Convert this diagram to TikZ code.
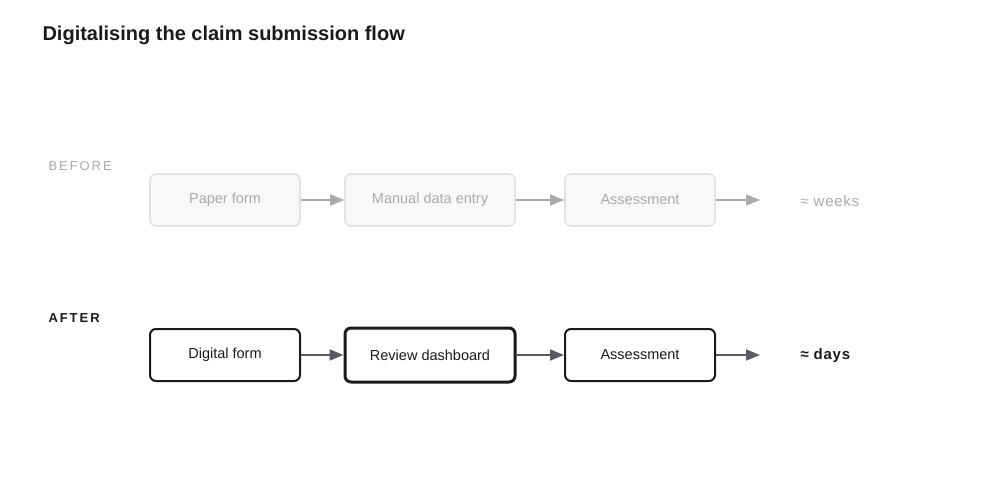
\documentclass[tikz,border=0pt]{standalone}
\usepackage{fontspec}
\setmainfont{Liberation Sans}
\usetikzlibrary{arrows.meta}
\definecolor{fadeline}{HTML}{E2E2E0}
\definecolor{fadefill}{HTML}{F8F8F6}
\definecolor{fadetext}{HTML}{AAAAAA}
\definecolor{fadearrow}{HTML}{AAAAAA}
\definecolor{darkline}{HTML}{1A1A1A}
\definecolor{darkarrow}{HTML}{5A5A60}
\begin{document}
\begin{tikzpicture}[x=1pt,y=-1pt,
  before/.style={draw=fadeline,fill=fadefill,line width=1.6pt,rounded corners=6pt,minimum height=52pt,text=fadetext,font=\fontsize{14.5}{16}\selectfont},
  after/.style={draw=darkline,fill=white,line width=2pt,rounded corners=6pt,minimum height=52pt,text=darkline,font=\fontsize{14.5}{16}\selectfont},
  farr/.style={draw=fadearrow,line width=1.6pt,-{Triangle[length=14pt,width=11pt]}},
  darr/.style={draw=darkarrow,line width=1.8pt,-{Triangle[length=14pt,width=11pt]}}]
\useasboundingbox (0,0) rectangle (1000,500);
\node[anchor=west,font=\bfseries\fontsize{20}{24}\selectfont,text=darkline] (title) at (39,35) {Digitalising the claim submission flow};
\node[anchor=west,text=fadetext,font=\fontsize{13}{15}\selectfont] (bl) at (45,166) {\addfontfeature{LetterSpace=15}BEFORE};
\node[anchor=west,text=darkline,font=\bfseries\fontsize{13}{15}\selectfont] (al) at (45,318) {\addfontfeature{LetterSpace=15}AFTER};
\node[before,minimum width=150pt] (b1) at (225,200) {Paper form};
\node[before,minimum width=170pt] (b2) at (430,200) {Manual data entry};
\node[before,minimum width=150pt] (b3) at (640,200) {Assessment};
\coordinate (be) at (760,200);
\node[anchor=west,text=fadetext,font=\fontsize{15}{17}\selectfont] (bw) at (797,201) {\addfontfeature{LetterSpace=5}≈ weeks};
\draw[farr] (b1) -- (b2);
\draw[farr] (b2) -- (b3);
\draw[farr] (b3) -- (be);
\node[after,minimum width=150pt] (a1) at (225,355) {Digital form};
\node[after,minimum width=170pt,minimum height=54pt,line width=3pt] (a2) at (430,355) {Review dashboard};
\node[after,minimum width=150pt] (a3) at (640,355) {Assessment};
\coordinate (ae) at (760,355);
\node[anchor=west,text=darkline,font=\bfseries\fontsize{15}{17}\selectfont] (ad) at (797,356) {\addfontfeature{LetterSpace=5}≈ days};
\draw[darr] (a1) -- (a2);
\draw[darr] (a2) -- (a3);
\draw[darr] (a3) -- (ae);
\end{tikzpicture}
\end{document}
